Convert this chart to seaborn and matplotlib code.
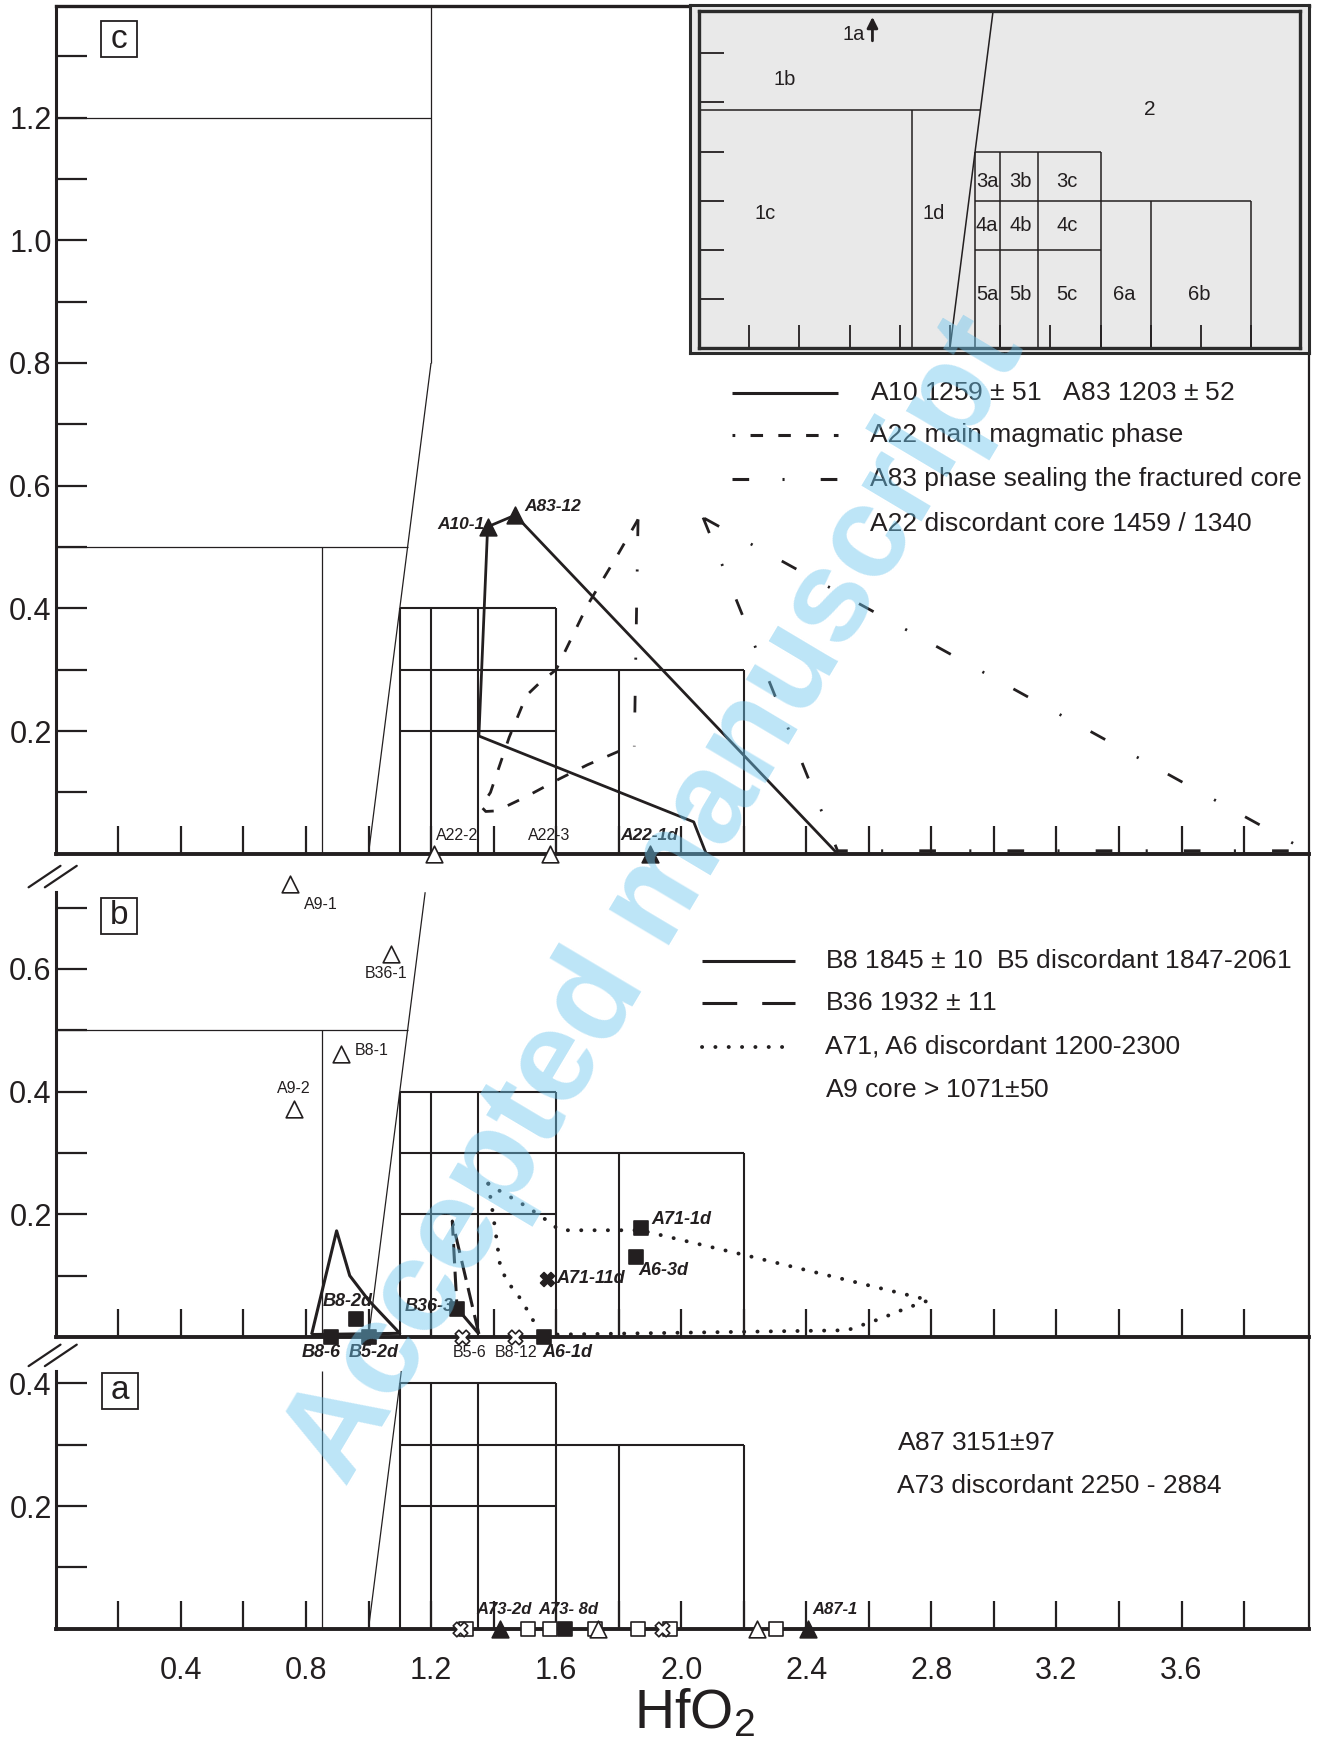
import numpy as np
import matplotlib
matplotlib.use("Agg")
import matplotlib.pyplot as plt
import seaborn as sns

# ---------------------------------------------------------------- data
# field boundaries of the discrimination diagram (HfO2 on the x axis)
field_cols = [1.1, 1.2, 1.35, 1.6, 1.8, 2.2]
field_col_tops = [0.4, 0.4, 0.4, 0.4, 0.3, 0.3]
field_rows = [0.4, 0.3, 0.2]
field_row_ends = [1.6, 2.2, 1.6]
field_row_start = 1.1
field_1d_x = 0.85
field_1c_top = 0.5
field_1a_y = 1.2
slant_x = [1.0, 1.2]
slant_y = [0.0, 0.8]

# panel c
c_a10_x = [2.08, 2.04, 1.353, 1.381, 1.469, 2.50]
c_a10_y = [0.0, 0.052, 0.192, 0.533, 0.552, 0.0]
c_a22_main_x = [1.862, 1.80, 1.70, 1.60, 1.55, 1.505, 1.45, 1.39, 1.36, 1.375, 1.41, 1.50, 1.61, 1.70, 1.80]
c_a22_main_y = [0.545, 0.49, 0.405, 0.30, 0.28, 0.258, 0.19, 0.10, 0.077, 0.069, 0.07, 0.092, 0.122, 0.145, 0.167]
c_a83_seal_x = [1.862, 1.85]
c_a83_seal_y = [0.545, 0.175]
c_a22_core_x = [2.07, 2.50, 4.0, 2.07]
c_a22_core_y = [0.548, 0.005, 0.005, 0.548]
c_tri_filled_x = [1.381, 1.469, 1.90]
c_tri_filled_y = [0.533, 0.552, 0.0]
c_tri_open_x = [1.21, 1.58]
c_tri_open_y = [0.0, 0.0]
c_legend = ["A10 1259 $\\pm$ 51   A83 1203 $\\pm$ 52", "A22 main magmatic phase",
            "A83 phase sealing the fractured core", "A22 discordant core 1459 / 1340"]

# panel b
b_b8_x = [0.818, 0.898, 0.94, 1.0, 1.10, 0.818]
b_b8_y = [0.004, 0.173, 0.10, 0.06, 0.006, 0.004]
b_b36_x = [1.353, 1.268, 1.283]
b_b36_y = [0.005, 0.189, 0.047]
b_b36_tail_x = [1.283, 1.353]
b_b36_tail_y = [0.047, 0.005]
b_a71_x = [1.383, 1.42, 1.488, 1.555, 1.589, 1.616, 1.87, 2.208, 2.793, 2.72, 2.638, 2.531, 1.602]
b_a71_y = [0.250, 0.238, 0.218, 0.196, 0.182, 0.174, 0.174, 0.133, 0.060, 0.047, 0.030, 0.011, 0.004]
b_a6_x = [1.383, 1.393, 1.407, 1.42, 1.44, 1.481, 1.521, 1.541]
b_a6_y = [0.250, 0.218, 0.169, 0.12, 0.093, 0.066, 0.033, 0.011]
b_tri_open_x = [0.750, 1.071, 0.912, 0.761]
b_tri_open_y = [0.739, 0.625, 0.461, 0.371]
b_sq_x = [0.881, 1.0, 0.959, 1.282, 1.562, 1.870, 1.854]
b_sq_y = [0.0, 0.0, 0.030, 0.046, 0.0, 0.177, 0.130]
b_cross_x = [1.571]
b_cross_y = [0.094]
b_cross_open_x = [1.30, 1.47]
b_cross_open_y = [0.0, 0.0]
b_legend = ["B8 1845 $\\pm$ 10  B5 discordant 1847-2061", "B36 1932 $\\pm$ 11",
            "A71, A6 discordant 1200-2300", "A9 core > 1071$\\pm$50"]

# panel a (all analyses plot on the axis)
a_sq_open_x = [1.312, 1.511, 1.580, 1.725, 1.863, 1.964, 2.303]
a_cross_open_x = [1.292, 1.940]
a_tri_open_x = [1.735, 2.243]
a_tri_filled_x = [1.420, 2.404]
a_sq_filled_x = [1.628]
a_notes = ["A87 3151$\\pm$97", "A73 discordant 2250 - 2884"]

# inset field labels
inset_names = ["1b", "2", "1c", "1d", "3a", "3b", "3c", "4a", "4b", "4c",
               "5a", "5b", "5c", "6a", "6b"]
inset_name_x = [0.34, 1.796, 0.264, 0.937, 1.148, 1.282, 1.466, 1.148, 1.282, 1.466,
                1.148, 1.282, 1.466, 1.695, 1.993]
inset_name_y = [0.546, 0.486, 0.274, 0.274, 0.34, 0.34, 0.34, 0.249, 0.249, 0.249,
                0.108, 0.108, 0.108, 0.108, 0.108]

# ---------------------------------------------------------------- style
sns.set_theme(style="white")
plt.rcParams["font.family"] = ["Liberation Sans", "DejaVu Sans"]
plt.rcParams["mathtext.fontset"] = "custom"
plt.rcParams["mathtext.rm"] = "Liberation Sans"
plt.rcParams["mathtext.it"] = "Liberation Sans:italic"
plt.rcParams["mathtext.bf"] = "Liberation Sans:bold"
plt.rcParams["lines.scale_dashes"] = False

INK = "#231f20"
W, H, DPI = 1319, 1751, 100
X_LEFT, X_RIGHT = 55.8, 1309.0
PX_X, PX_Y = 312.7, 613.5

DASHED = (0, (9, 11))
DASHDOT = (0, (12, 24, 1.5, 26))
LONGDASH = (0, (14, 6))
DOTTED = (0, (0.1, 9.5))

fig = plt.figure(figsize=(W / DPI, H / DPI), dpi=DPI)


def make_panel(top_px, bottom_px, z):
    ax = fig.add_axes([X_LEFT / W, 1 - bottom_px / H, (X_RIGHT - X_LEFT) / W,
                       (bottom_px - top_px) / H])
    ax.set_facecolor("white")
    ax.set_zorder(z)
    ax.set_xlim(0, (X_RIGHT - X_LEFT) / PX_X)
    ax.set_ylim(0, (bottom_px - top_px) / PX_Y)
    return ax


def trace(ax, xs, ys, lw=2.0, ls="-", z=3, cap="butt"):
    sns.lineplot(x=np.asarray(xs, float), y=np.asarray(ys, float), ax=ax, sort=False,
                 estimator=None, color=INK, linewidth=lw, linestyle=ls, zorder=z,
                 legend=False, dash_capstyle=cap, solid_capstyle="butt")


def dots(ax, xs, ys, marker, size, filled):
    sns.scatterplot(x=np.asarray(xs, float), y=np.asarray(ys, float), ax=ax,
                    marker=marker, s=size ** 2, color=INK if filled else "white",
                    edgecolor=INK, linewidth=1.2, zorder=6, clip_on=False, legend=False)


def label(ax, x, y, s, bold=True, ha="left", size=None):
    if bold:
        ax.text(x, y, s, fontsize=size or 12.5, fontweight="bold", fontstyle="italic",
                ha=ha, va="center", color=INK, zorder=7, clip_on=False)
    else:
        ax.text(x, y, s, fontsize=size or 11.5, ha=ha, va="center", color=INK,
                zorder=7, clip_on=False)


def fields(ax, top, thin=0.9, thick=1.5):
    for x, t in zip(field_cols, field_col_tops):
        trace(ax, [x, x], [0, min(t, top)], lw=thick, z=2)
    for y, x1 in zip(field_rows, field_row_ends):
        if y <= top:
            trace(ax, [field_row_start, x1], [y, y], lw=thick, z=2)
    trace(ax, [field_1d_x, field_1d_x], [0, min(field_1c_top, top)], lw=thin, z=2)
    slope = (slant_x[1] - slant_x[0]) / (slant_y[1] - slant_y[0])
    s_top = min(top, slant_y[1])
    trace(ax, [slant_x[0], slant_x[0] + slope * s_top], [0, s_top], lw=thin, z=2)
    if top >= field_1c_top:
        trace(ax, [0, slant_x[0] + slope * field_1c_top], [field_1c_top] * 2, lw=thin, z=2)


def frame(ax, left_top, yticks, ylabels, xlabels):
    for side in ["top", "right", "left", "bottom"]:
        ax.spines[side].set_color(INK)
    ax.spines["bottom"].set_linewidth(2.8)
    ax.spines["left"].set_linewidth(2.2)
    ax.spines["right"].set_linewidth(1.6)
    ax.spines["top"].set_visible(False)
    if left_top is not None:
        ax.spines["left"].set_bounds(0, left_top)
    ax.set_yticks(yticks, ylabels)
    xt = np.round(np.arange(0.2, 3.81, 0.2), 1)
    ax.set_xticks(xt, [f"{v:.1f}" if (xlabels and round(v * 10) % 4 == 0) else "" for v in xt])
    ax.tick_params(axis="y", direction="in", length=22, width=1.6, color=INK,
                   labelsize=22, pad=3, labelcolor=INK, left=True)
    ax.tick_params(axis="x", direction="in", length=20, width=1.6, color=INK,
                   labelsize=22, pad=20, labelcolor=INK, bottom=True)
    ax.set_xlabel("")
    ax.set_ylabel("")
    ax.grid(False)


def panel_tag(ax, x, y, s):
    ax.plot([x], [y], marker="s", markersize=26.5, mfc="white", mec=INK, mew=1.3,
            zorder=6, clip_on=False)
    ax.text(x, y, s, fontsize=24, ha="center", va="center", color=INK, zorder=7)


def axis_break(ax, y0):
    for dx in (0.0, 0.052):
        ax.plot([-0.087 + dx, 0.015 + dx], [y0, y0 + 0.035], color=INK, lw=1.6,
                clip_on=False, zorder=6)


def ticks_major(step_top):
    vals = np.round(np.arange(0.1, step_top + 1e-9, 0.1), 1)
    return vals, [f"{v:.1f}" if round(v * 10) % 2 == 0 else "" for v in vals]


# ---------------------------------------------------------------- panel c
ax_c = make_panel(6.0, 853.8, 3)
top_c = ax_c.get_ylim()[1]
fields(ax_c, top_c)
trace(ax_c, [slant_x[1], slant_x[1]], [slant_y[1], top_c], lw=0.9, z=2)
trace(ax_c, [0, slant_x[1]], [field_1a_y, field_1a_y], lw=0.9, z=2)

trace(ax_c, c_a10_x, c_a10_y, lw=2.0)
trace(ax_c, c_a22_main_x, c_a22_main_y, lw=2.0, ls=DASHED)
trace(ax_c, c_a83_seal_x, c_a83_seal_y, lw=2.0, ls=DASHDOT)
trace(ax_c, c_a22_core_x, c_a22_core_y, lw=2.0, ls=DASHDOT)
dots(ax_c, c_tri_filled_x, c_tri_filled_y, "^", 12, True)
dots(ax_c, c_tri_open_x, c_tri_open_y, "^", 12, False)
label(ax_c, 1.37, 0.537, "A10-1", ha="right")
label(ax_c, 1.50, 0.566, "A83-12")
label(ax_c, 1.215, 0.030, "A22-2", bold=False)
label(ax_c, 1.51, 0.030, "A22-3", bold=False)
label(ax_c, 1.805, 0.030, "A22-1d")

leg_y_c = [0.751, 0.682, 0.611, 0.538]
for y, ls in zip(leg_y_c[:3], ["-", (7, (9, 11)), DASHDOT]):
    ax_c.plot([2.161, 2.50], [y, y], color=INK, lw=2.2, ls=ls, solid_capstyle="butt")
for y, s in zip(leg_y_c, c_legend):
    ax_c.text(2.604, y, s, fontsize=19, va="center", ha="left", color=INK)

yt, yl = ticks_major(1.3)
frame(ax_c, None, yt, yl, False)
ax_c.spines["top"].set_visible(True)
ax_c.spines["top"].set_linewidth(2.4)
panel_tag(ax_c, 0.2024, 1.328, "c")

# ---------------------------------------------------------------- panel b
ax_b = make_panel(853.8, 1337.0, 2)
fields(ax_b, 0.725)
trace(ax_b, b_b8_x, b_b8_y, lw=2.2)
trace(ax_b, b_b36_x, b_b36_y, lw=2.2, ls=LONGDASH)
trace(ax_b, b_b36_tail_x, b_b36_tail_y, lw=2.2)
trace(ax_b, b_a71_x, b_a71_y, lw=2.8, ls=DOTTED, cap="round")
trace(ax_b, b_a6_x, b_a6_y, lw=2.8, ls=DOTTED, cap="round")
dots(ax_b, b_tri_open_x, b_tri_open_y, "^", 12, False)
dots(ax_b, b_sq_x, b_sq_y, "s", 10, True)
dots(ax_b, b_cross_x, b_cross_y, "X", 10, True)
dots(ax_b, b_cross_open_x, b_cross_open_y, "X", 10.5, False)

label(ax_b, 0.793, 0.705, "A9-1", bold=False)
label(ax_b, 0.989, 0.593, "B36-1", bold=False)
label(ax_b, 0.957, 0.467, "B8-1", bold=False)
label(ax_b, 0.707, 0.405, "A9-2", bold=False)
label(ax_b, 0.854, 0.058, "B8-2d", size=13)
label(ax_b, 1.272, 0.050, "B36-3", ha="right", size=13)
label(ax_b, 0.786, -0.026, "B8-6", size=13)
label(ax_b, 0.936, -0.026, "B5-2d", size=13)
label(ax_b, 1.271, -0.026, "B5-6", bold=False)
label(ax_b, 1.404, -0.026, "B8-12", bold=False)
label(ax_b, 1.557, -0.026, "A6-1d", size=13)
label(ax_b, 1.600, 0.096, "A71-11d", size=13)
label(ax_b, 1.904, 0.191, "A71-1d", size=13)
label(ax_b, 1.864, 0.109, "A6-3d", size=13)

leg_y_b = [0.613, 0.544, 0.473, 0.403]
for y, ls, lw, cap in zip(leg_y_b[:3], ["-", (0, (25, 18)), DOTTED], [2.2, 2.2, 2.8],
                          ["butt", "butt", "round"]):
    ax_b.plot([2.065, 2.365], [y, y], color=INK, lw=lw, ls=ls, solid_capstyle="butt",
              dash_capstyle=cap)
for y, s in zip(leg_y_b, b_legend):
    ax_b.text(2.461, y, s, fontsize=19, va="center", ha="left", color=INK)

yt, yl = ticks_major(0.7)
frame(ax_b, 0.725, yt, yl, False)
panel_tag(ax_b, 0.2012, 0.687, "b")
axis_break(ax_b, 0.733)

# ---------------------------------------------------------------- panel a
ax_a = make_panel(1337.0, 1628.7, 1)
fields(ax_a, 0.42)
dots(ax_a, a_sq_open_x, np.zeros(len(a_sq_open_x)), "s", 10, False)
dots(ax_a, a_cross_open_x, np.zeros(len(a_cross_open_x)), "X", 10.5, False)
dots(ax_a, a_tri_open_x, np.zeros(len(a_tri_open_x)), "^", 12, False)
dots(ax_a, a_tri_filled_x, np.zeros(len(a_tri_filled_x)), "^", 12, True)
dots(ax_a, a_sq_filled_x, np.zeros(len(a_sq_filled_x)), "s", 10, True)
label(ax_a, 1.346, 0.031, "A73-2d", size=12)
label(ax_a, 1.543, 0.031, "A73- 8d", size=12)
label(ax_a, 2.418, 0.031, "A87-1", size=12)
for y, s in zip([0.302, 0.233], a_notes):
    ax_a.text(2.69, y, s, fontsize=19, va="center", ha="left", color=INK)

yt, yl = ticks_major(0.4)
frame(ax_a, 0.42, yt, yl, True)
panel_tag(ax_a, 0.2063, 0.388, "a")
axis_break(ax_a, 0.428)

fig.text(0.5267, 1 - 1714 / H, "HfO$_2$", fontsize=40, ha="center", va="center", color=INK)

# ---------------------------------------------------------------- inset key
GREY = "#e9e9e9"
ax_f = fig.add_axes([690 / W, 1 - 353 / H, 619 / W, 348 / H])
ax_f.set_zorder(4)
ax_f.set_facecolor(GREY)
ax_f.set_xticks([])
ax_f.set_yticks([])
for sp in ax_f.spines.values():
    sp.set_color("#2b2b2b")
    sp.set_linewidth(2.2)

ax_i = fig.add_axes([699 / W, 1 - 348 / H, 601 / W, 337 / H])
ax_i.set_zorder(5)
ax_i.set_facecolor(GREY)
ax_i.set_xlim(0, 601 / 251)
ax_i.set_ylim(0, 337 / 491)
i_top = ax_i.get_ylim()[1]
for x, t in zip(field_cols, field_col_tops):
    trace(ax_i, [x, x], [0, t], lw=1.1, z=2)
for y, x1 in zip(field_rows, field_row_ends):
    trace(ax_i, [field_row_start, x1], [y, y], lw=1.1, z=2)
slope = (slant_x[1] - slant_x[0]) / (slant_y[1] - slant_y[0])
trace(ax_i, [slant_x[0], slant_x[0] + slope * i_top], [0, i_top], lw=1.1, z=2)
i_1c = 0.485
trace(ax_i, [field_1d_x, field_1d_x], [0, i_1c], lw=1.1, z=2)
trace(ax_i, [0, slant_x[0] + slope * i_1c], [i_1c, i_1c], lw=1.1, z=2)
for s, x, y in zip(inset_names, inset_name_x, inset_name_y):
    ax_i.text(x, y, s, fontsize=15 if s == "2" else 14.5, ha="center", va="center", color=INK)
ax_i.text(0.616, 0.639, "1a", fontsize=14.5, ha="center", va="center", color=INK)
ax_i.annotate("", xy=(0.691, 0.68), xytext=(0.691, 0.62),
              arrowprops=dict(arrowstyle="-|>", lw=2.0, color=INK, mutation_scale=16))
ax_i.set_xticks(np.round(np.arange(0.2, 2.21, 0.2), 1), [])
ax_i.set_yticks(np.round(np.arange(0.1, 0.61, 0.1), 1), [])
ax_i.tick_params(axis="x", direction="in", length=16.5, width=1.3, color=INK, bottom=True)
ax_i.tick_params(axis="y", direction="in", length=18, width=1.3, color=INK, left=True)
ax_i.set_xlabel("")
ax_i.set_ylabel("")
for sp in ax_i.spines.values():
    sp.set_color("#2b2b2b")
    sp.set_linewidth(2.4)

# ---------------------------------------------------------------- watermark
fig.text(0.497, 0.4858, "Accepted manuscript", fontsize=94, fontweight="bold",
         rotation=59.2, rotation_mode="anchor", ha="center", va="center",
         color="#6cc5ee", alpha=0.45, zorder=100)

fig.savefig("out.png", dpi=DPI)
